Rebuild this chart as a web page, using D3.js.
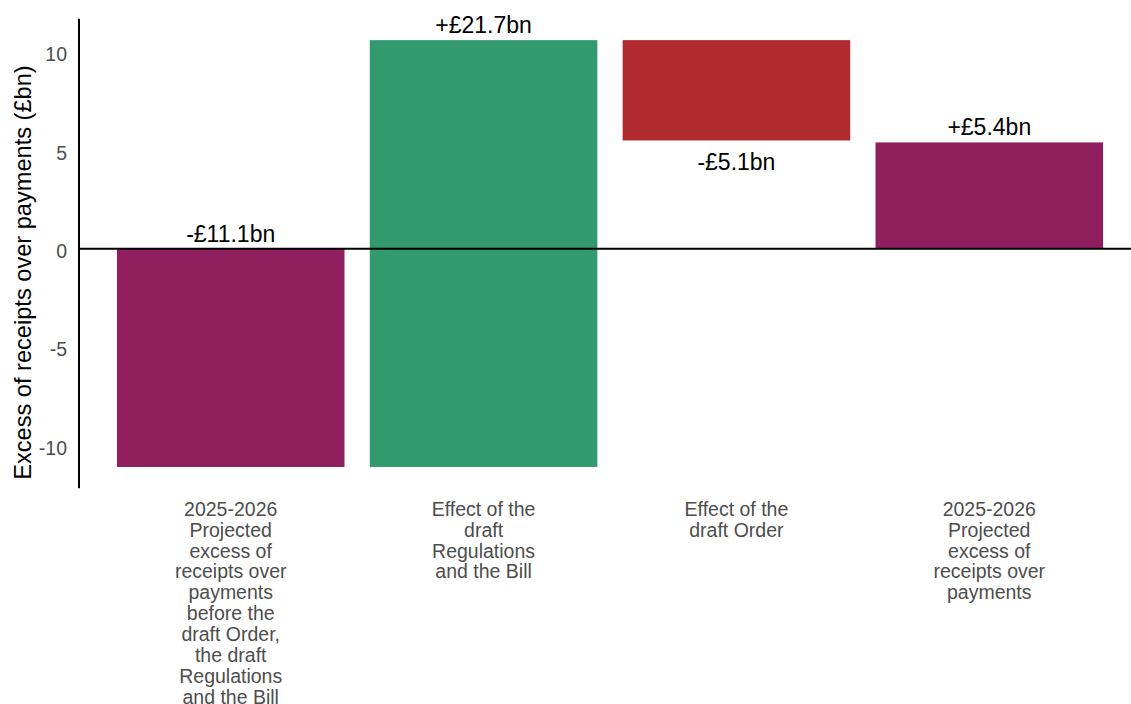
<!DOCTYPE html>
<html>
<head>
<meta charset="utf-8">
<script src="https://cdn.jsdelivr.net/npm/d3@7"></script>
<style>
  html, body { margin: 0; padding: 0; background: #fff; }
  svg { display: block; font-family: "Liberation Sans", Arial, sans-serif; }
</style>
</head>
<body>
<svg id="chart" width="1131" height="704"></svg>
<script>
// Waterfall steps: opening position, two effects, closing position (£bn)
const categories = [
  ["2025-2026", "Projected", "excess of", "receipts over", "payments", "before the", "draft Order,", "the draft", "Regulations", "and the Bill"],
  ["Effect of the", "draft", "Regulations", "and the Bill"],
  ["Effect of the", "draft Order"],
  ["2025-2026", "Projected", "excess of", "receipts over", "payments"]
];
const stepKinds = ["total", "change", "change", "total"];
const stepValues = [-11.1, 21.7, -5.1, 5.4];
const stepLabels = ["-£11.1bn", "+£21.7bn", "-£5.1bn", "+£5.4bn"];
const stepColors = ["#8F1F5F", "#339A6F", "#B02A2F", "#8F1F5F"];
const yTicks = [-10, -5, 0, 5, 10];
const yTitle = "Excess of receipts over payments (£bn)";

// Build start/end for each bar
let running = 0;
const bars = stepValues.map((v, i) => {
  let start, end;
  if (stepKinds[i] === "total") { start = 0; end = v; running = v; }
  else { start = running; end = running + v; running = end; }
  return { i, start, end, label: stepLabels[i], color: stepColors[i], lines: categories[i] };
});

const svg = d3.select("#chart");

const x = d3.scaleBand()
  .domain(d3.range(categories.length))
  .range([79, 1141])
  .paddingInner(0.1)
  .paddingOuter(0.15);

const lo = d3.min(bars, d => Math.min(d.start, d.end));
const hi = d3.max(bars, d => Math.max(d.start, d.end));
const pad = (hi - lo) * 0.05;
const y = d3.scaleLinear()
  .domain([lo - pad, hi + pad])
  .range([488.3, 18.8]);

// Bars
svg.append("g").selectAll("rect")
  .data(bars)
  .join("rect")
  .attr("x", d => x(d.i))
  .attr("width", x.bandwidth())
  .attr("y", d => y(Math.max(d.start, d.end)))
  .attr("height", d => Math.abs(y(d.start) - y(d.end)))
  .attr("fill", d => d.color);

// Zero line
svg.append("line")
  .attr("x1", x.range()[0]).attr("x2", x.range()[1])
  .attr("y1", y(0)).attr("y2", y(0))
  .attr("stroke", "#000").attr("stroke-width", 2);

// Y axis (plain hyphen for negative ticks)
const yAxis = svg.append("g")
  .attr("transform", "translate(79,0)")
  .call(d3.axisLeft(y).tickValues(yTicks).tickSize(0).tickPadding(12).tickFormat(d => String(d)));
yAxis.select(".domain")
  .attr("d", `M0,${y.range()[1]}V${y.range()[0]}`)
  .attr("stroke", "#000").attr("stroke-width", 2);
yAxis.selectAll("text")
  .attr("fill", "#4D4D4D")
  .attr("font-size", "19.5px")
  .attr("font-family", "'Liberation Sans', Arial, sans-serif")
  .attr("dy", "0.45em");

// Y title
svg.append("text")
  .attr("transform", `translate(30.5,${(y.range()[0] + y.range()[1]) / 2 + 19}) rotate(-90)`)
  .attr("text-anchor", "middle")
  .attr("font-size", "23.6px")
  .attr("fill", "#000")
  .text(yTitle);

// Value labels: above the bar for increases/totals, below for decreases
svg.append("g").selectAll("text")
  .data(bars)
  .join("text")
  .attr("x", d => x(d.i) + x.bandwidth() / 2)
  .attr("y", d => stepKinds[d.i] === "change" && d.end < d.start
    ? y(Math.min(d.start, d.end)) + 30
    : y(Math.max(d.start, d.end)) - 7)
  .attr("text-anchor", "middle")
  .attr("font-size", "23px")
  .attr("fill", "#000")
  .text(d => d.label);

// Category labels (multi-line)
const catG = svg.append("g").selectAll("text")
  .data(bars)
  .join("text")
  .attr("x", d => x(d.i) + x.bandwidth() / 2)
  .attr("y", 515.7)
  .attr("text-anchor", "middle")
  .attr("font-size", "19.5px")
  .attr("fill", "#4D4D4D");
catG.selectAll("tspan")
  .data(d => d.lines.map(t => ({ t, cx: x(d.i) + x.bandwidth() / 2 })))
  .join("tspan")
  .attr("x", d => d.cx)
  .attr("dy", (d, j) => j === 0 ? 0 : 20.9)
  .text(d => d.t);
</script>
</body>
</html>
